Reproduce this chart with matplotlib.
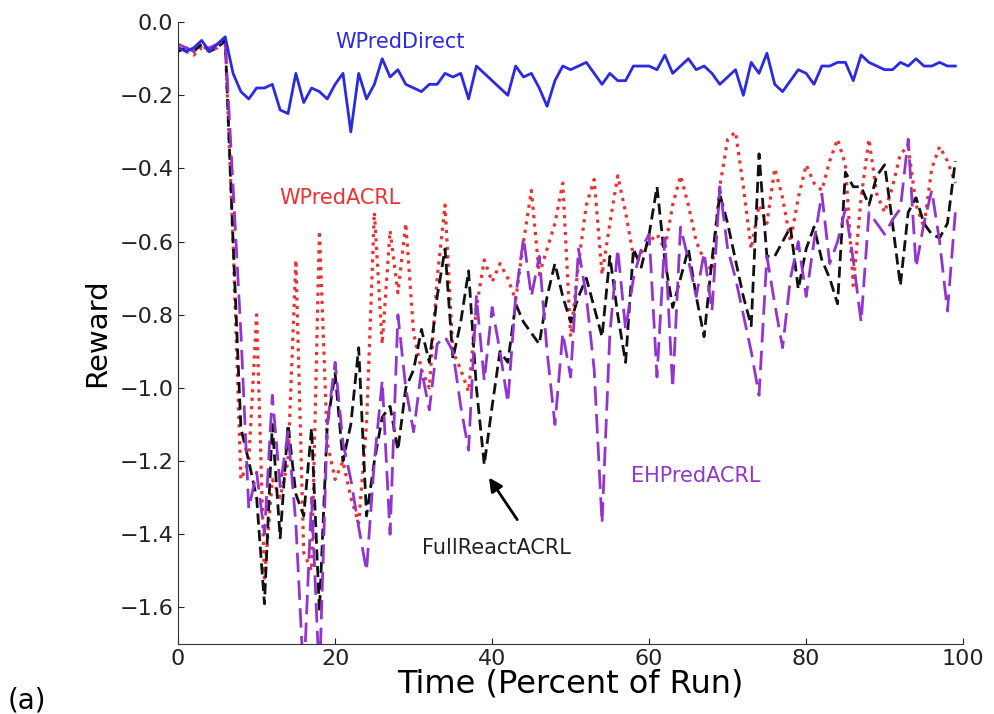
import numpy as np
import matplotlib
matplotlib.use('Agg')
import matplotlib.pyplot as plt
from matplotlib.ticker import FuncFormatter

# time axis (percent of run)
t = np.arange(100)

# WPredDirect
w_direct = [-0.07, -0.08, -0.07, -0.05, -0.08, -0.06, -0.04, -0.14, -0.19, -0.21,
            -0.18, -0.18, -0.17, -0.24, -0.25, -0.14, -0.22, -0.18, -0.19, -0.21,
            -0.17, -0.14, -0.30, -0.14, -0.21, -0.17, -0.10, -0.15, -0.13, -0.17,
            -0.18, -0.19, -0.17, -0.17, -0.14, -0.15, -0.14, -0.21, -0.12, -0.14,
            -0.16, -0.18, -0.20, -0.12, -0.15, -0.14, -0.18, -0.23, -0.16, -0.12,
            -0.13, -0.12, -0.11, -0.14, -0.17, -0.14, -0.16, -0.16, -0.12, -0.12,
            -0.12, -0.13, -0.09, -0.14, -0.12, -0.10, -0.13, -0.12, -0.14, -0.17,
            -0.15, -0.13, -0.20, -0.11, -0.14, -0.085, -0.17, -0.19, -0.16, -0.13,
            -0.14, -0.17, -0.12, -0.12, -0.11, -0.11, -0.16, -0.09, -0.11, -0.12,
            -0.13, -0.13, -0.11, -0.12, -0.10, -0.12, -0.12, -0.11, -0.12, -0.12]

# WPredACRL
w_acrl = [-0.07, -0.08, -0.09, -0.07, -0.08, -0.07, -0.05, -0.60, -1.25, -1.20,
          -0.80, -1.52, -1.25, -1.30, -1.20, -0.65, -1.45, -1.50, -0.57, -1.15,
          -1.25, -1.20, -1.30, -1.37, -1.10, -0.52, -0.88, -0.57, -0.74, -0.55,
          -0.85, -0.95, -1.00, -0.70, -0.50, -0.90, -0.95, -1.01, -0.78, -0.65,
          -0.71, -0.66, -0.70, -0.76, -0.60, -0.46, -0.69, -0.62, -0.55, -0.44,
          -0.86, -0.66, -0.50, -0.43, -0.69, -0.55, -0.42, -0.52, -0.64, -0.63,
          -0.60, -0.58, -0.62, -0.50, -0.42, -0.50, -0.60, -0.65, -0.68, -0.45,
          -0.32, -0.30, -0.45, -0.62, -0.50, -0.55, -0.40, -0.48, -0.60, -0.48,
          -0.39, -0.44, -0.46, -0.38, -0.32, -0.39, -0.72, -0.48, -0.32, -0.47,
          -0.52, -0.45, -0.36, -0.34, -0.50, -0.56, -0.40, -0.34, -0.38, -0.44]

# FullReactACRL
full_react = [-0.08, -0.07, -0.08, -0.06, -0.08, -0.07, -0.05, -0.60, -1.11, -1.20,
              -1.30, -1.59, -1.10, -1.41, -1.10, -1.29, -1.35, -1.11, -1.61, -1.10,
              -0.96, -1.20, -1.10, -0.89, -1.35, -1.20, -1.08, -1.05, -1.17, -1.00,
              -0.95, -0.84, -0.93, -0.75, -0.62, -0.92, -0.82, -0.68, -1.00, -1.21,
              -1.05, -0.90, -0.93, -0.77, -0.82, -0.85, -0.88, -0.75, -0.66, -0.75,
              -0.82, -0.75, -0.70, -0.78, -0.86, -0.64, -0.80, -0.93, -0.62, -0.67,
              -0.58, -0.45, -0.65, -0.78, -0.70, -0.62, -0.75, -0.86, -0.65, -0.47,
              -0.55, -0.65, -0.75, -0.83, -0.36, -0.64, -0.64, -0.60, -0.56, -0.73,
              -0.62, -0.56, -0.65, -0.70, -0.77, -0.41, -0.45, -0.45, -0.50, -0.42,
              -0.39, -0.55, -0.72, -0.52, -0.48, -0.55, -0.58, -0.59, -0.55, -0.38]

# EHPredACRL
eh_pred = [-0.06, -0.07, -0.08, -0.07, -0.07, -0.06, -0.05, -0.45, -0.85, -1.33,
           -1.23, -1.40, -1.02, -1.27, -1.12, -1.37, -1.80, -1.30, -1.80, -1.10,
           -0.93, -1.15, -1.25, -1.38, -1.50, -1.20, -0.98, -1.40, -0.80, -1.00,
           -1.12, -0.95, -1.06, -0.88, -0.86, -0.90, -1.05, -1.17, -0.75, -0.98,
           -0.78, -0.90, -1.04, -0.75, -0.59, -0.75, -0.64, -0.90, -1.10, -0.85,
           -0.97, -0.62, -0.75, -0.95, -1.37, -0.85, -0.62, -0.84, -0.70, -0.62,
           -0.58, -0.97, -0.59, -1.00, -0.56, -0.65, -0.75, -0.63, -0.79, -0.45,
           -0.62, -0.70, -0.80, -0.90, -1.02, -0.64, -0.77, -0.89, -0.70, -0.60,
           -0.75, -0.60, -0.47, -0.66, -0.60, -0.51, -0.65, -0.82, -0.52, -0.55,
           -0.58, -0.54, -0.51, -0.32, -0.67, -0.55, -0.46, -0.60, -0.79, -0.52]

c_blue = '#2a2ae6'
c_red = '#f03030'
c_black = '#111111'
c_purple = '#9434d0'


def ylab(v, pos):
    # unicode minus, and plain 0.0 at the top
    if abs(v) < 1e-9:
        return '0.0'
    return ('%.1f' % v).replace('-', '\u2212')


fig = plt.figure(figsize=(9.95, 7.14), dpi=100)
ax = fig.add_axes([0.179, 0.098, 0.789, 0.871])

ax.plot(t, w_acrl, color=c_red, linestyle=':', linewidth=2.3)
ax.plot(t, full_react, color=c_black, linestyle='--', linewidth=2.0, dashes=(4, 2))
ax.plot(t, eh_pred, color=c_purple, linestyle='--', linewidth=2.0, dashes=(7, 3))
ax.plot(t, w_direct, color=c_blue, linestyle='-', linewidth=2.0)

ax.set_xlim(0, 100)
ax.set_ylim(-1.7, 0.0)
ax.set_xticks([0, 20, 40, 60, 80, 100])
ax.set_yticks(np.arange(-1.6, 0.01, 0.2))
ax.yaxis.set_major_formatter(FuncFormatter(ylab))
ax.tick_params(direction='in', length=4, labelsize=16, colors='#222222')
for s in ['top', 'right']:
    ax.spines[s].set_visible(False)
for s in ['left', 'bottom']:
    ax.spines[s].set_color('#333333')

ax.set_xlabel('Time (Percent of Run)', fontsize=23, labelpad=0)
ax.set_ylabel('Reward', fontsize=21, labelpad=6)

ax.text(28.3, -0.055, 'WPredDirect', color=c_blue, fontsize=15, ha='center', va='center')
ax.text(20.6, -0.48, 'WPredACRL', color=c_red, fontsize=15, ha='center', va='center')
ax.text(66.0, -1.24, 'EHPredACRL', color=c_purple, fontsize=15, ha='center', va='center')
ax.text(40.6, -1.437, 'FullReactACRL', color='#222222', fontsize=15, ha='center', va='center')
ax.annotate('', xy=(39.6, -1.245), xytext=(43.2, -1.36),
            arrowprops=dict(arrowstyle='-|>', color='black', lw=2,
                            mutation_scale=20, shrinkA=0, shrinkB=0))

fig.text(0.008, 0.0, '(a)', fontsize=20, va='bottom', ha='left')

fig.savefig('out.png', dpi=100)
